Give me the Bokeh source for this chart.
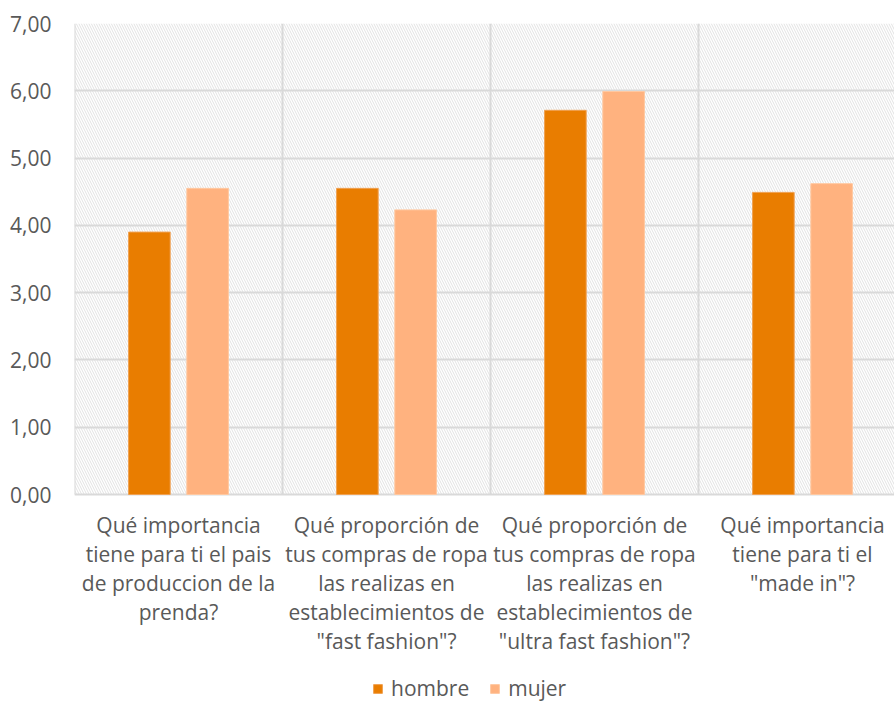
from bokeh.plotting import figure
from bokeh.models import (Range1d, FixedTicker, Legend, LegendItem, ColumnDataSource,
                          BoxAnnotation)
from bokeh.core.properties import value
from bokeh.embed import file_html
from bokeh.resources import INLINE

categories = [
    "Qué importancia\ntiene para ti el pais\nde produccion de la\nprenda?",
    "Qué proporción de\ntus compras de ropa\nlas realizas en\nestablecimientos de\n\"fast fashion\"?",
    "Qué proporción de\ntus compras de ropa\nlas realizas en\nestablecimientos de\n\"ultra fast fashion\"?",
    "Qué importancia\ntiene para ti el\n\"made in\"?",
]
hombre = [3.90, 4.55, 5.71, 4.49]
mujer = [4.55, 4.23, 5.99, 4.62]
y_ticks = [0, 1, 2, 3, 4, 5, 6, 7]

FONT = "Open Sans"
TEXT_COLOR = "#595959"
GRID = "#d9d9d9"

# layout: the value area is 471 px tall for 0..7; the frame continues below it
# to hold the category labels and the legend
VALUE_PX = 471
FRAME_PX = 679
px_per_unit = VALUE_PX / 7
y_start = 7 - FRAME_PX / px_per_unit

p = figure(frame_width=820, frame_height=FRAME_PX, output_backend="svg",
           toolbar_location=None, x_range=Range1d(0, 820 / 208),
           y_range=Range1d(y_start, 7))
p.min_border_left = 74
p.min_border_right = 0
p.min_border_top = 23
p.min_border_bottom = 0
p.outline_line_color = None
p.background_fill_color = "white"
p.border_fill_color = "white"
p.xaxis.visible = False
p.xgrid.visible = False

n = len(categories)
# hatched plot area, drawn beneath the grid
p.add_layout(BoxAnnotation(left=0, right=n, bottom=0, top=7, fill_color="white",
                           fill_alpha=1, hatch_pattern="\\", hatch_color="#e2e2e2",
                           hatch_scale=5, hatch_weight=1, line_color=None, level="image"))

# horizontal grid (including the base line at 0)
p.ygrid.grid_line_color = GRID
p.ygrid.grid_line_width = 2
p.ygrid.level = "underlay"
p.ygrid.ticker = FixedTicker(ticks=y_ticks)

# vertical separators between categories
bounds = list(range(n + 1))
p.segment(x0=bounds, y0=[0] * len(bounds), x1=bounds, y1=[7] * len(bounds),
          line_color=GRID, line_width=2, level="underlay")

centers = [i + 0.5 for i in range(n)]
src_h = ColumnDataSource(dict(x=[c - 0.14 for c in centers], top=hombre))
src_m = ColumnDataSource(dict(x=[c + 0.14 for c in centers], top=mujer))
r_h = p.vbar(x="x", top="top", bottom=0, width=0.2, source=src_h, fill_color="#E97D00",
             line_color="#F0A050", line_width=1)
r_m = p.vbar(x="x", top="top", bottom=0, width=0.2, source=src_m, fill_color="#FFB27F",
             line_color="#FFC8A0", line_width=1)

# y axis
p.yaxis.ticker = FixedTicker(ticks=y_ticks)
p.yaxis.major_label_overrides = {t: f"{t:.2f}".replace(".", ",") for t in y_ticks}
p.yaxis.axis_line_color = None
p.yaxis.major_tick_line_color = None
p.yaxis.minor_tick_line_color = None
p.yaxis.major_label_text_font = FONT
p.yaxis.major_label_text_font_size = "21px"
p.yaxis.major_label_text_color = TEXT_COLOR
p.yaxis.major_label_standoff = 17

# category labels under each group
label_top = -16 / px_per_unit
p.text(x=centers, y=[label_top] * n, text=categories, text_font=value(FONT),
       text_font_size="21px", text_color=TEXT_COLOR, text_align="center",
       text_baseline="top", text_line_height=1.04)

legend = Legend(items=[LegendItem(label="hombre", renderers=[r_h]),
                       LegendItem(label="mujer", renderers=[r_m])],
                orientation="horizontal", location=(298, 0))
legend.label_text_font = FONT
legend.label_text_font_size = "21px"
legend.label_text_color = TEXT_COLOR
legend.glyph_width = 11
legend.glyph_height = 11
legend.border_line_color = None
legend.background_fill_alpha = 0
legend.spacing = 20
legend.label_standoff = 8
legend.margin = 0
legend.padding = 0
p.add_layout(legend, "center")

open("out.html", "w").write(file_html(p, INLINE))
